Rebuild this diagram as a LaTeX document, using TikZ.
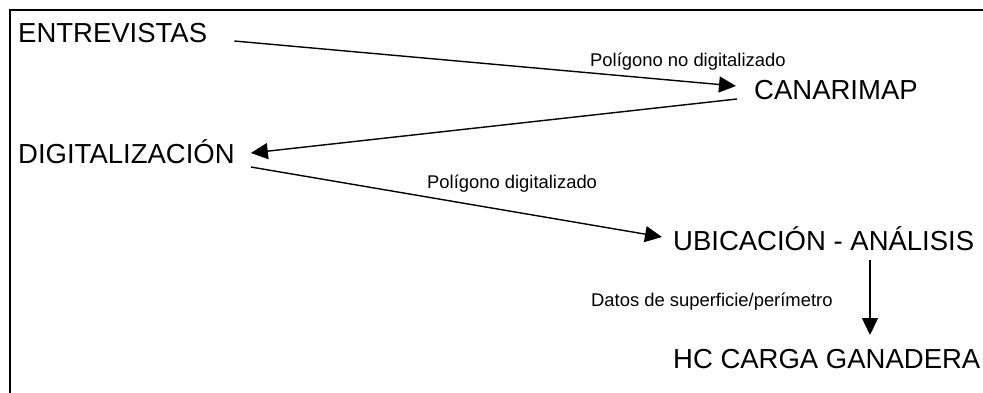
\documentclass[tikz,border=0pt]{standalone}
\usepackage{fontspec}
\setmainfont{Liberation Sans}
\usetikzlibrary{arrows.meta}
\begin{document}
\begin{tikzpicture}[x=1pt,y=-1pt,
  big/.style={anchor=base west,inner sep=0pt,font=\fontsize{27.5}{32}\selectfont},
  lbl/.style={anchor=base west,inner sep=0pt,font=\fontsize{18.4}{22}\selectfont},
  conn/.style={line width=1.4pt,-{Triangle[length=17pt,width=16pt]}}]
\useasboundingbox (0,0) rectangle (983,392);
\clip (0,0) rectangle (983,392);
\draw[line width=2pt] (10,10) rectangle (1000,410);
% nodes
\node[big] (entre) at (18,42) {ENTREVISTAS};
\node[big] (cana) at (754,99) {CANARIMAP};
\node[big] (digi) at (18,163) {DIGITALIZACIÓN};
\node[big] (ubic) at (673,250) {UBICACIÓN - ANÁLISIS};
\node[big] (hc) at (673,368) {HC CARGA GANADERA};
% labels
\node[lbl] (l1) at (590,66) {Polígono no digitalizado};
\node[lbl] (l2) at (427,188) {Polígono digitalizado};
\node[lbl] (l3) at (591,306) {Datos de superficie/perímetro};
% connector ends
\coordinate (e1) at ([shift={(27,-1)}]entre.base east);
\coordinate (c1) at ([shift={(-18,-13)}]cana.base west);
\coordinate (c2) at ([shift={(-17,0)}]cana.base west);
\coordinate (d1) at ([shift={(16,-10)}]digi.base east);
\coordinate (d2) at ([shift={(16,4)}]digi.base east);
\coordinate (u1) at ([shift={(-11,-13)}]ubic.base west);
\coordinate (u2) at (870,260);
\coordinate (h1) at (870,335);
\draw[conn] (e1) -- (c1);
\draw[conn] (c2) -- (d1);
\draw[conn] (d2) -- (u1);
\draw[conn] (u2) -- (h1);
\end{tikzpicture}
\end{document}
